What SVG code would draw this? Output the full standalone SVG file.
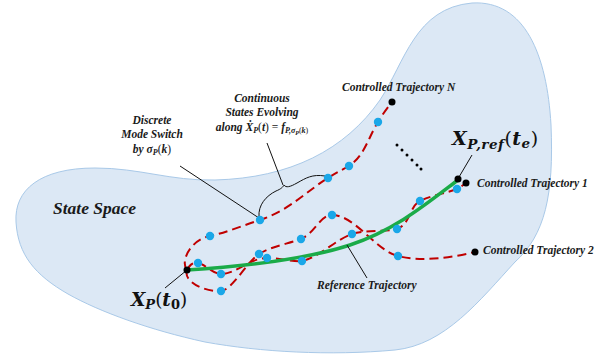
<svg xmlns="http://www.w3.org/2000/svg" width="613" height="358" viewBox="0 0 613 358">
<style>
.lbl{font-family:'Liberation Serif',serif;font-weight:700;font-style:italic;font-size:11.5px;fill:#1a1a1a}
.math{font-family:'DejaVu Serif','Liberation Serif',serif;font-weight:700;font-style:italic;fill:#111}
.up{font-style:normal;font-weight:normal}
.traj{fill:none;stroke:#c00000;stroke-width:2;stroke-dasharray:9 5}
.lead{fill:none;stroke:#111;stroke-width:1}
.blue{fill:#1aa7e8}
.blk{fill:#000}
</style>
<g id="state-space">
<path d="M16,222 C14,190 40,168 95,168 C140,168 170,181 215,180 C290,178 345,150 380,100 C405,62 415,8 472,3 C525,0 547,55 551,125 C554,195 545,235 515,262 C480,300 445,345 395,350 C330,356 260,352 205,342 C150,330 100,312 68,294 C35,275 18,255 16,222 Z" fill="#dce8f5" stroke="#a9c9e8" stroke-width="1"/>
<text class="lbl" x="53" y="214" font-family="Liberation Serif" font-style="italic" font-weight="bold" style="font-size:17.5px">State Space</text>
</g>
<g id="connectors">
<path class="traj" d="M187,270 C180,262 190,240 210,236 C228,232 244,225 260,220 C290,210 308,190 328,178 C337,172 342,170 349,166 C365,155 368,138 378,122 C384,112 388,107 392,102"/>
<path class="traj" d="M187,270 C183,282 205,292 221,291 C232,290 247,262 259,254 C272,246 288,244 301,239 C315,233 320,215 332,215 C355,215 375,250 398,256 C420,262 450,258 475,252"/>
<path class="traj" d="M187,270 C190,264 194,262 198,263 C205,264 213,274 221,274 C236,274 250,258 267,258 C280,258 292,262 302,261 C318,258 335,240 352,234 C365,230 385,232 397,229 C410,225 410,205 420,201 C432,195 447,193 457,189 C461,187 463,185 466,183"/>
<path d="M187,270 C250,266 310,258 350,245 C395,230 425,205 458,180" fill="none" stroke="#1aab48" stroke-width="3.5" stroke-linecap="round"/>
<line class="lead" x1="180" y1="166" x2="259" y2="218"/>
<line class="lead" x1="267" y1="143" x2="283" y2="185"/>
<path class="lead" d="M259,217 C258,205 266,196 276,191 C281,189 283,187 284,185 C286,188 290,187 297,183 C306,178 312,174 325,176"/>
<line class="lead" x1="347" y1="245" x2="367" y2="278"/>
<line class="lead" x1="165" y1="288" x2="187" y2="270"/>
<line class="lead" x1="472" y1="155" x2="459" y2="177"/>
</g>
<g id="dots">
<circle class="blue" cx="210" cy="236" r="4.2"/>
<circle class="blue" cx="260" cy="220" r="4.2"/>
<circle class="blue" cx="328" cy="178" r="4.2"/>
<circle class="blue" cx="349" cy="166" r="4.2"/>
<circle class="blue" cx="378" cy="122" r="4.2"/>
<circle class="blue" cx="198" cy="263" r="4.2"/>
<circle class="blue" cx="221" cy="274" r="4.2"/>
<circle class="blue" cx="267" cy="258" r="4.2"/>
<circle class="blue" cx="302" cy="261" r="4.2"/>
<circle class="blue" cx="352" cy="234" r="4.2"/>
<circle class="blue" cx="397" cy="229" r="4.2"/>
<circle class="blue" cx="420" cy="201" r="4.2"/>
<circle class="blue" cx="457" cy="189" r="4.2"/>
<circle class="blue" cx="221" cy="291" r="4.2"/>
<circle class="blue" cx="259" cy="254" r="4.2"/>
<circle class="blue" cx="301" cy="239" r="4.2"/>
<circle class="blue" cx="332" cy="215" r="4.2"/>
<circle class="blue" cx="398" cy="256" r="4.2"/>
<circle class="blk" cx="187" cy="270" r="3.5"/>
<circle class="blk" cx="392" cy="102" r="3.5"/>
<circle class="blk" cx="458" cy="179" r="3.5"/>
<circle class="blk" cx="466" cy="183" r="3.5"/>
<circle class="blk" cx="475" cy="252" r="3.5"/>
<circle class="blk" cx="397" cy="145" r="1.5"/>
<circle class="blk" cx="402" cy="150" r="1.5"/>
<circle class="blk" cx="407" cy="155" r="1.5"/>
<circle class="blk" cx="412" cy="160" r="1.5"/>
<circle class="blk" cx="417" cy="165" r="1.5"/>
<circle class="blk" cx="421" cy="169" r="1.5"/>
</g>
<g id="label-traj-n"><text class="lbl" x="342" y="91">Controlled Trajectory N</text></g>
<g id="label-traj-1"><text class="lbl" x="477" y="187">Controlled Trajectory 1</text></g>
<g id="label-traj-2"><text class="lbl" x="483" y="254">Controlled Trajectory 2</text></g>
<g id="label-ref"><text class="lbl" x="317" y="289">Reference Trajectory</text></g>
<g id="label-discrete">
<text class="lbl" x="152" y="124" text-anchor="middle">Discrete</text>
<text class="lbl" x="152" y="138" text-anchor="middle">Mode Switch</text>
<text class="lbl" x="152" y="153" text-anchor="middle">by σ<tspan dy="2" style="font-size:8px">P</tspan><tspan dy="-2" class="up">(</tspan>k<tspan class="up">)</tspan></text>
</g>
<g id="label-continuous">
<text class="lbl" x="262" y="102" text-anchor="middle">Continuous</text>
<text class="lbl" x="262" y="116" text-anchor="middle">States Evolving</text>
<text class="lbl" x="262" y="131" text-anchor="middle">along Ẋ<tspan dy="2" style="font-size:8px">P</tspan><tspan dy="-2" class="up">(</tspan>t<tspan class="up">) = </tspan>f<tspan dy="2" style="font-size:8px">P,σ</tspan><tspan dy="1.5" style="font-size:6px">P</tspan><tspan dy="-1.5" style="font-size:8px" class="up">(</tspan><tspan style="font-size:8px">k</tspan><tspan style="font-size:8px" class="up">)</tspan></text>
</g>
<g id="label-x0">
<text class="math" x="131" y="306" style="font-size:18.5px">X<tspan dy="3" style="font-size:13px">P</tspan><tspan dy="-3" class="up">(</tspan>t<tspan dy="3" style="font-size:13px;font-style:normal">0</tspan><tspan dy="-3" class="up">)</tspan></text>
</g>
<g id="label-xref">
<text class="math" x="452" y="145" style="font-size:19px;letter-spacing:0.5px">X<tspan dy="4" style="font-size:13.5px">P,ref</tspan><tspan dy="-4" class="up">(</tspan>t<tspan dy="3" style="font-size:13.5px">e</tspan><tspan dy="-3" class="up">)</tspan></text>
</g>
</svg>
